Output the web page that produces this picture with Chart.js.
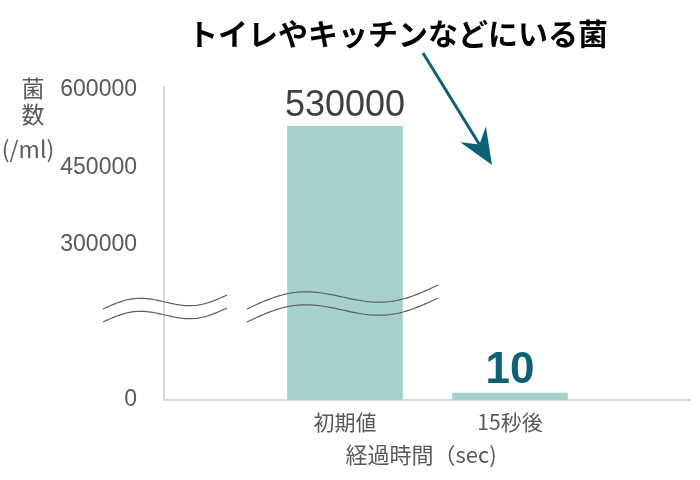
<!DOCTYPE html>
<html>
<head>
<meta charset="utf-8">
<script src="https://cdn.jsdelivr.net/npm/chart.js@4.4.0/dist/chart.umd.min.js"></script>
<style>
  html, body { margin: 0; padding: 0; background: #fff; }
</style>
</head>
<body>
<canvas id="chart" width="700" height="480"></canvas>
<script>
// chart data
var categories = ['初期値', '15秒後'];
var counts = [530000, 10];
var valueLabels = ['530000', '10'];
var yTicks = [0, 300000, 450000, 600000];

// texts
var titleText = 'トイレやキッチンなどにいる菌';
var yTitleLines = ['菌', '数', '(/ml)'];
var xTitleText = '経過時間（sec)';

var latin = "'Liberation Sans', Arial, 'Noto Sans CJK JP', sans-serif";
var cjk = "'Noto Sans CJK JP', 'Noto Sans', sans-serif";
var grey = '#595959';
var teal = '#0d6176';

// look of the value labels above each bar
var labelStyles = [
    { font: '36px ' + latin, color: '#404040' },
    { font: 'bold 44px ' + latin, color: teal }
];

// wavy break marks (upper line of each pair)
var breakMarks = [
    { x0: 103, x1: 227, y0: 309, y1: 295 },
    { x0: 247, x1: 438, y0: 309, y1: 285 }
];

function drawWave(ctx, m, dy) {
    var amp = 0.055 * (m.x1 - m.x0);
    ctx.beginPath();
    for (var i = 0; i <= 60; i++) {
        var t = i / 60;
        var x = m.x0 + (m.x1 - m.x0) * t;
        var y = m.y0 + (m.y1 - m.y0) * t - amp * Math.sin(2 * Math.PI * t) + dy;
        if (i === 0) ctx.moveTo(x, y); else ctx.lineTo(x, y);
    }
    ctx.stroke();
}

var decorations = {
    id: 'decorations',
    afterDatasetsDraw: function (chart) {
        var ctx = chart.ctx;
        var meta = chart.getDatasetMeta(0);

        // value labels
        meta.data.forEach(function (bar, i) {
            ctx.save();
            ctx.font = labelStyles[i].font;
            ctx.fillStyle = labelStyles[i].color;
            ctx.textAlign = 'center';
            ctx.textBaseline = 'alphabetic';
            ctx.fillText(valueLabels[i], bar.x, bar.y - 10);
            ctx.restore();
        });

        // axis break
        ctx.save();
        ctx.strokeStyle = '#5f5f5f';
        ctx.lineWidth = 1.2;
        breakMarks.forEach(function (m) {
            drawWave(ctx, m, 0);
            drawWave(ctx, m, 13);
        });
        ctx.restore();
    },
    afterDraw: function (chart) {
        var ctx = chart.ctx;
        ctx.save();

        // title
        ctx.font = 'bold 30px ' + cjk;
        ctx.fillStyle = '#000';
        ctx.textAlign = 'center';
        ctx.textBaseline = 'middle';
        ctx.fillText(titleText, 398, 34);

        // y axis title, stacked
        ctx.font = '23px ' + cjk;
        ctx.fillStyle = grey;
        ctx.fillText(yTitleLines[0], 33, 88);
        ctx.fillText(yTitleLines[1], 33, 114);
        ctx.fillText(yTitleLines[2], 28, 149);

        // x axis title
        ctx.font = '22px ' + cjk;
        ctx.fillText(xTitleText, 421, 455);

        // arrow
        var sx = 423, sy = 53, tx = 492, ty = 165;
        var len = Math.hypot(tx - sx, ty - sy);
        var ux = (tx - sx) / len, uy = (ty - sy) / len;
        var px = uy, py = -ux;
        ctx.strokeStyle = teal;
        ctx.fillStyle = teal;
        ctx.lineWidth = 3;
        ctx.beginPath();
        ctx.moveTo(sx, sy);
        ctx.lineTo(tx - ux * 24, ty - uy * 24);
        ctx.stroke();
        ctx.beginPath();
        ctx.moveTo(tx, ty);
        ctx.lineTo(tx - ux * 36 + px * 15, ty - uy * 36 + py * 15);
        ctx.lineTo(tx - ux * 24, ty - uy * 24);
        ctx.lineTo(tx - ux * 36 - px * 15, ty - uy * 36 - py * 15);
        ctx.closePath();
        ctx.fill();

        ctx.restore();
    }
};

var ctx = document.getElementById('chart').getContext('2d');
new Chart(ctx, {
    type: 'bar',
    data: {
        datasets: [{
            data: counts.map(function (v, i) { return { x: i + 1, y: v }; }),
            backgroundColor: '#a6d1cb',
            borderWidth: 0,
            barThickness: 115,
            minBarLength: 7
        }]
    },
    options: {
        responsive: false,
        animation: false,
        layout: { padding: { top: 87, right: 10, left: 0, bottom: 0 } },
        plugins: {
            legend: { display: false },
            tooltip: { enabled: false },
            title: { display: false }
        },
        scales: {
            x: {
                type: 'linear',
                offset: false,
                min: -0.097,
                max: 3.091,
                grid: { display: false, drawTicks: false },
                border: { display: true, color: '#d9d9d9', width: 2 },
                afterBuildTicks: function (scale) {
                    scale.ticks = categories.map(function (c, i) { return { value: i + 1 }; });
                },
                ticks: {
                    callback: function (value) { return categories[value - 1]; },
                    font: { family: cjk, size: 21 },
                    color: grey,
                    padding: 9,
                    maxRotation: 0,
                    autoSkip: false
                },
                afterFit: function (scale) { scale.height = 80; }
            },
            y: {
                min: 0,
                max: 606000,
                grid: { display: false, drawTicks: false },
                border: { display: true, color: '#d9d9d9', width: 2 },
                afterBuildTicks: function (scale) {
                    scale.ticks = yTicks.map(function (v) { return { value: v }; });
                },
                ticks: {
                    callback: function (value) { return String(value); },
                    font: { family: latin, size: 23 },
                    color: grey,
                    padding: 27
                },
                afterFit: function (scale) { scale.width = 164; }
            }
        }
    },
    plugins: [decorations]
});
</script>
</body>
</html>
